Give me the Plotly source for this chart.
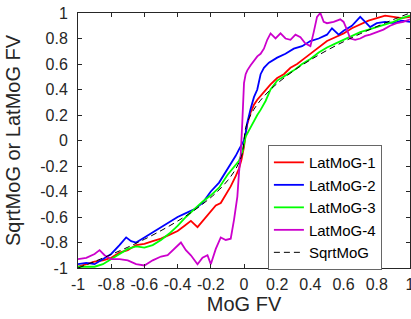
import plotly.graph_objects as go

# ---- data ----
x_lat1 = [-1, -0.95, -0.9, -0.85, -0.8, -0.75, -0.7, -0.65, -0.6, -0.55, -0.5, -0.45, -0.4, -0.36, -0.32,
          -0.28, -0.24, -0.2, -0.17, -0.14, -0.1, -0.08, -0.05, -0.03, -0.015, 0, 0.01, 0.02, 0.04, 0.06,
          0.08, 0.1, 0.13, 0.16, 0.2, 0.24, 0.28, 0.32, 0.36, 0.4, 0.45, 0.5, 0.55, 0.6, 0.65, 0.7, 0.75,
          0.8, 0.85, 0.9, 0.95, 1]
y_lat1 = [-0.99, -0.97, -0.95, -0.94, -0.92, -0.88, -0.86, -0.82, -0.81, -0.79, -0.77, -0.74, -0.71, -0.67,
          -0.63, -0.68, -0.62, -0.56, -0.51, -0.49, -0.41, -0.36, -0.28, -0.22, -0.15, -0.05, 0.05, 0.13,
          0.22, 0.28, 0.32, 0.35, 0.40, 0.44, 0.49, 0.52, 0.57, 0.60, 0.64, 0.68, 0.73, 0.78, 0.81, 0.84,
          0.88, 0.91, 0.94, 0.96, 0.98, 0.97, 0.96, 0.97]

x_lat2 = [-1, -0.95, -0.9, -0.85, -0.8, -0.75, -0.71, -0.68, -0.65, -0.6, -0.55, -0.5, -0.45, -0.4, -0.35,
          -0.3, -0.25, -0.2, -0.15, -0.1, -0.07, -0.05, -0.03, -0.01, 0, 0.01, 0.02, 0.04, 0.06, 0.08, 0.1,
          0.12, 0.15, 0.2, 0.25, 0.3, 0.35, 0.4, 0.45, 0.5, 0.53, 0.57, 0.6, 0.65, 0.7, 0.73, 0.76, 0.8,
          0.85, 0.9, 0.95, 1]
y_lat2 = [-0.97, -0.96, -0.97, -0.93, -0.89, -0.82, -0.76, -0.79, -0.80, -0.76, -0.72, -0.68, -0.64, -0.60,
          -0.57, -0.54, -0.49, -0.40, -0.33, -0.23, -0.17, -0.12, -0.07, -0.02, 0.0, 0.06, 0.14, 0.25,
          0.34, 0.40, 0.52, 0.57, 0.61, 0.65, 0.68, 0.72, 0.74, 0.78, 0.80, 0.83, 0.88, 0.83, 0.86, 0.90,
          0.97, 0.93, 0.89, 0.92, 0.93, 0.92, 0.94, 0.93]

x_lat3 = [-1, -0.95, -0.9, -0.85, -0.8, -0.75, -0.7, -0.65, -0.6, -0.55, -0.5, -0.45, -0.4, -0.35, -0.3,
          -0.25, -0.2, -0.15, -0.1, -0.06, -0.03, -0.01, 0, 0.01, 0.03, 0.05, 0.08, 0.1, 0.13, 0.16, 0.2,
          0.25, 0.3, 0.35, 0.4, 0.45, 0.5, 0.55, 0.6, 0.65, 0.7, 0.75, 0.8, 0.85, 0.9, 0.95, 1]
y_lat3 = [-0.99, -0.99, -0.99, -0.97, -0.93, -0.89, -0.85, -0.83, -0.84, -0.82, -0.78, -0.73, -0.67, -0.60,
          -0.54, -0.48, -0.43, -0.37, -0.27, -0.21, -0.16, -0.09, -0.03, 0.03, 0.08, 0.13, 0.2, 0.24,
          0.31, 0.40, 0.47, 0.51, 0.55, 0.6, 0.64, 0.69, 0.73, 0.76, 0.79, 0.82, 0.85, 0.87, 0.89, 0.91,
          0.93, 0.96, 0.98]

x_lat4 = [-1, -0.95, -0.9, -0.87, -0.84, -0.8, -0.75, -0.7, -0.65, -0.6, -0.55, -0.5, -0.46, -0.42, -0.38,
          -0.35, -0.32, -0.28, -0.25, -0.22, -0.2, -0.17, -0.14, -0.11, -0.08, -0.06, -0.04, -0.03, -0.02,
          -0.01, 0, 0.01, 0.02, 0.04, 0.06, 0.08, 0.1, 0.12, 0.14, 0.16, 0.19, 0.22, 0.25, 0.28, 0.31, 0.34,
          0.37, 0.4, 0.42, 0.44, 0.46, 0.48, 0.5, 0.54, 0.58, 0.6, 0.62, 0.64, 0.67, 0.7, 0.73, 0.76, 0.8,
          0.84, 0.88, 0.92, 0.96, 1]
y_lat4 = [-0.93, -0.92, -0.89, -0.86, -0.9, -0.93, -0.93, -0.94, -0.97, -0.98, -0.94, -0.91, -0.9, -0.85,
          -0.8, -0.86, -0.9, -0.97, -0.92, -0.9, -0.97, -0.85, -0.76, -0.78, -0.77, -0.62, -0.44, -0.25,
          -0.12, 0.15, 0.45, 0.52, 0.55, 0.59, 0.63, 0.66, 0.68, 0.72, 0.79, 0.84, 0.8, 0.84, 0.8, 0.79,
          0.83, 0.81, 0.76, 0.74, 0.85, 0.97, 1.0, 0.93, 0.92, 0.93, 0.95, 0.93, 0.87, 0.8, 0.79, 0.8,
          0.82, 0.83, 0.85, 0.87, 0.9, 0.92, 0.93, 0.95]

x_sqrt = [-1, -0.9, -0.8, -0.7, -0.6, -0.5, -0.4, -0.3, -0.2, -0.15, -0.1, -0.06, -0.03, -0.01, 0,
          0.01, 0.03, 0.06, 0.1, 0.15, 0.2, 0.3, 0.4, 0.5, 0.6, 0.7, 0.8, 0.9, 1]
y_sqrt = [-1, -0.949, -0.894, -0.837, -0.775, -0.707, -0.632, -0.548, -0.447, -0.387, -0.316, -0.245,
          -0.173, -0.1, 0, 0.1, 0.173, 0.245, 0.316, 0.387, 0.447, 0.548, 0.632, 0.707, 0.775, 0.837,
          0.894, 0.949, 1]

tick_vals = [-1, -0.8, -0.6, -0.4, -0.2, 0, 0.2, 0.4, 0.6, 0.8, 1]
tick_text = ["-1", "-0.8", "-0.6", "-0.4", "-0.2", "0", "0.2", "0.4", "0.6", "0.8", "1"]

series = [
    ("LatMoG-1", x_lat1, y_lat1, "#ff0000"),
    ("LatMoG-2", x_lat2, y_lat2, "#0000ff"),
    ("LatMoG-3", x_lat3, y_lat3, "#00ff00"),
    ("LatMoG-4", x_lat4, y_lat4, "#cc00cc"),
]

fig = go.Figure()
for name, xs, ys, col in series:
    fig.add_trace(go.Scatter(x=xs, y=ys, mode="lines", name=name,
                             line=dict(color=col, width=1.8)))
fig.add_trace(go.Scatter(x=x_sqrt, y=y_sqrt, mode="lines", name="SqrtMoG",
                         line=dict(color="black", width=1, dash="6px,4px"), line_shape="spline"))

font_family = "Liberation Sans, Arial, sans-serif"
axis_common = dict(
    range=[-1, 1], tickvals=tick_vals, ticktext=tick_text,
    showline=True, linecolor="#262626", linewidth=1, mirror="ticks",
    ticks="inside", ticklen=4, tickcolor="#262626", tickwidth=1,
    showgrid=False, zeroline=False, automargin=False, ticklabeloverflow="allow",
    tickfont=dict(family=font_family, size=16, color="#262626"),
)
fig.update_layout(
    width=411, height=319,
    margin=dict(l=78, r=1, t=13, b=51),
    paper_bgcolor="white", plot_bgcolor="white",
    font=dict(family=font_family, color="#262626"),
    showlegend=True,
    legend=dict(x=0.572, y=0.482, xanchor="left", yanchor="top",
                bgcolor="white", bordercolor="#666666", borderwidth=1,
                font=dict(family=font_family, size=15, color="black"),
                tracegroupgap=0),
)
fig.update_xaxes(**axis_common, ticklabelstandoff=2,
                 title=dict(text="MoG FV", font=dict(size=20, family=font_family), standoff=3))
fig.update_yaxes(**axis_common, ticklabelstandoff=6,
                 title=dict(text="SqrtMoG or LatMoG FV", font=dict(size=20, family=font_family), standoff=14))

fig.write_html("out.html", config={"displayModeBar": False},
               post_script="document.body.style.margin='0px';")
